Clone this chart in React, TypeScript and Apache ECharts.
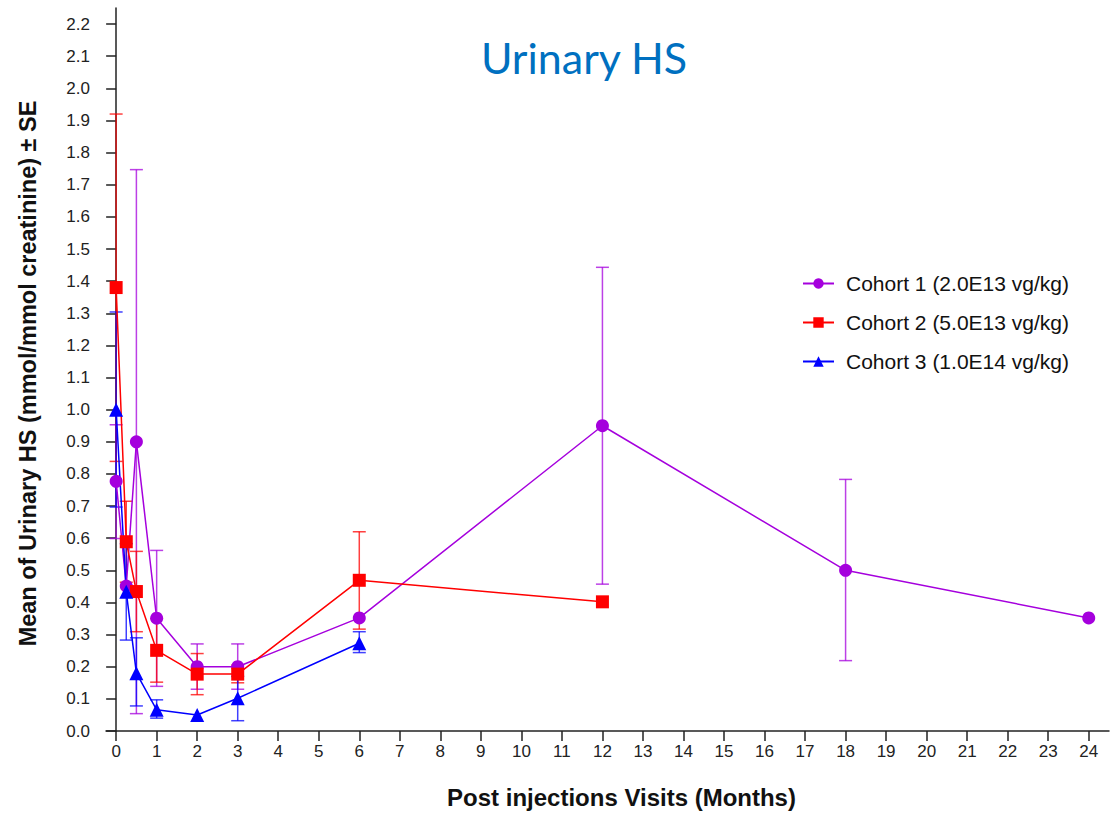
import React, { useEffect, useRef } from "react";
import * as echarts from "echarts";

const xTicks = Array.from({ length: 25 }, (_, i) => i);
const yTicks = Array.from({ length: 23 }, (_, i) => Math.round(i * 10) / 100);

const months1 = [0, 0.25, 0.5, 1, 2, 3, 6, 12, 18, 24];
const cohort1 = [0.777, 0.451, 0.9, 0.351, 0.2, 0.2, 0.352, 0.95, 0.5, 0.352];
const cohort1Low = [0.599, null, 0.054, 0.139, 0.13, 0.13, null, 0.457, 0.219, null];
const cohort1High = [0.953, null, 1.747, 0.562, 0.271, 0.271, null, 1.443, 0.783, null];

const months2 = [0, 0.25, 0.5, 1, 2, 3, 6, 12];
const cohort2 = [1.38, 0.589, 0.434, 0.251, 0.177, 0.177, 0.469, 0.402];
const cohort2Low = [0.839, 0.463, 0.309, 0.152, 0.113, 0.15, 0.317, null];
const cohort2High = [1.92, 0.715, 0.559, 0.35, 0.241, 0.205, 0.62, null];

const months3 = [0, 0.25, 0.5, 1, 2, 3, 6];
const cohort3 = [1.0, 0.433, 0.18, 0.066, 0.05, 0.102, 0.273];
const cohort3Low = [0.697, 0.283, 0.078, 0.04, null, 0.032, 0.244];
const cohort3High = [1.304, 0.583, 0.29, 0.097, null, 0.17, 0.309];

const names = [
  "Cohort 1 (2.0E13 vg/kg)",
  "Cohort 2 (5.0E13 vg/kg)",
  "Cohort 3 (1.0E14 vg/kg)",
];
const colors = ["#A500DD", "#FF0000", "#0000FF"];
const symbols = ["circle", "rect", "triangle"];

const FONT = "'Liberation Sans', Arial, sans-serif";

function lineData(xs: number[], ys: number[]) {
  return xs.map((x, i) => [x, ys[i]]);
}
function errData(xs: number[], lo: (number | null)[], hi: (number | null)[]) {
  const out: number[][] = [];
  xs.forEach((x, i) => {
    if (lo[i] != null && hi[i] != null) out.push([x, lo[i] as number, hi[i] as number]);
  });
  return out;
}

export default function App() {
  const ref = useRef<HTMLDivElement>(null);
  useEffect(() => {
    if (!ref.current) return;
    const chart = echarts.init(ref.current, null, { renderer: "svg" });
    const groups = [
      { xs: months1, ys: cohort1, lo: cohort1Low, hi: cohort1High },
      { xs: months2, ys: cohort2, lo: cohort2Low, hi: cohort2High },
      { xs: months3, ys: cohort3, lo: cohort3Low, hi: cohort3High },
    ];
    const series: any[] = [];
    groups.forEach((g, k) => {
      const color = colors[k];
      series.push({
        type: "custom",
        name: "err" + k,
        data: errData(g.xs, g.lo, g.hi),
        z: 1,
        renderItem: (params: any, api: any) => {
          const x = api.value(0);
          const lo = api.coord([x, api.value(1)]);
          const hi = api.coord([x, api.value(2)]);
          const w = 6.5;
          const style = { stroke: color, lineWidth: 1.5, opacity: 0.75 };
          return {
            type: "group",
            children: [
              { type: "line", shape: { x1: lo[0], y1: lo[1], x2: hi[0], y2: hi[1] }, style },
              { type: "line", shape: { x1: lo[0] - w, y1: lo[1], x2: lo[0] + w, y2: lo[1] }, style },
              { type: "line", shape: { x1: hi[0] - w, y1: hi[1], x2: hi[0] + w, y2: hi[1] }, style },
            ],
          };
        },
      });
    });
    groups.forEach((g, k) => {
      series.push({
        type: "line",
        name: names[k],
        data: lineData(g.xs, g.ys),
        symbol: symbols[k],
        symbolSize: k === 2 ? 14 : 13,
        lineStyle: { color: colors[k], width: 1.5 },
        itemStyle: { color: colors[k] },
        z: 3,
      });
    });
    chart.setOption({
      animation: false,
      backgroundColor: "#ffffff",
      title: {
        text: "Urinary HS",
        left: 579,
        top: 31,
        textAlign: "center",
        textStyle: { fontFamily: "Lato", fontSize: 43, fontWeight: "normal", color: "#0070C0" },
      },
      legend: {
        data: names,
        orient: "vertical",
        left: 797,
        top: 268,
        itemWidth: 31,
        itemHeight: 13,
        itemGap: 18,
        textStyle: {
          fontFamily: FONT,
          fontSize: 21,
          color: "#111",
          padding: [0, 0, 0, 7],
        },
      },
      grid: { left: 106, right: 3, top: 8, bottom: 81, containLabel: false },
      xAxis: {
        type: "value",
        min: -0.25,
        max: 24.5,
        name: "Post injections Visits (Months)",
        nameLocation: "middle",
        nameGap: 54,
        nameTextStyle: {
          fontFamily: FONT,
          fontSize: 24,
          fontWeight: "bold",
          color: "#111",
          padding: [0, 0, 0, 28],
        },
        splitLine: { show: false },
        axisLine: { onZero: false, lineStyle: { color: "#222", width: 1.5 } },
        axisTick: { customValues: xTicks, length: 10, lineStyle: { color: "#222", width: 1.5 } },
        axisLabel: {
          customValues: xTicks,
          margin: 12,
          fontFamily: FONT,
          fontSize: 17,
          color: "#222",
        },
      },
      yAxis: {
        type: "value",
        min: 0,
        max: 2.25,
        name: "Mean of Urinary HS (mmol/mmol creatinine) ± SE",
        nameLocation: "middle",
        nameGap: 66,
        nameTextStyle: {
          fontFamily: FONT,
          fontSize: 23.5,
          fontWeight: "bold",
          color: "#111",
          padding: [0, 8, 0, 0],
        },
        splitLine: { show: false },
        axisLine: { show: true, lineStyle: { color: "#222", width: 1.5 } },
        axisTick: { show: true, customValues: yTicks, length: 10, lineStyle: { color: "#222", width: 1.5 } },
        axisLabel: {
          customValues: yTicks,
          margin: 16,
          fontFamily: FONT,
          fontSize: 17,
          color: "#222",
          formatter: (v: number) => v.toFixed(1),
        },
      },
      series,
    });
    return () => chart.dispose();
  }, []);
  return (
    <div
      ref={ref}
      style={{ position: "fixed", left: 0, top: 0, width: 1112, height: 814, background: "#fff" }}
    />
  );
}
